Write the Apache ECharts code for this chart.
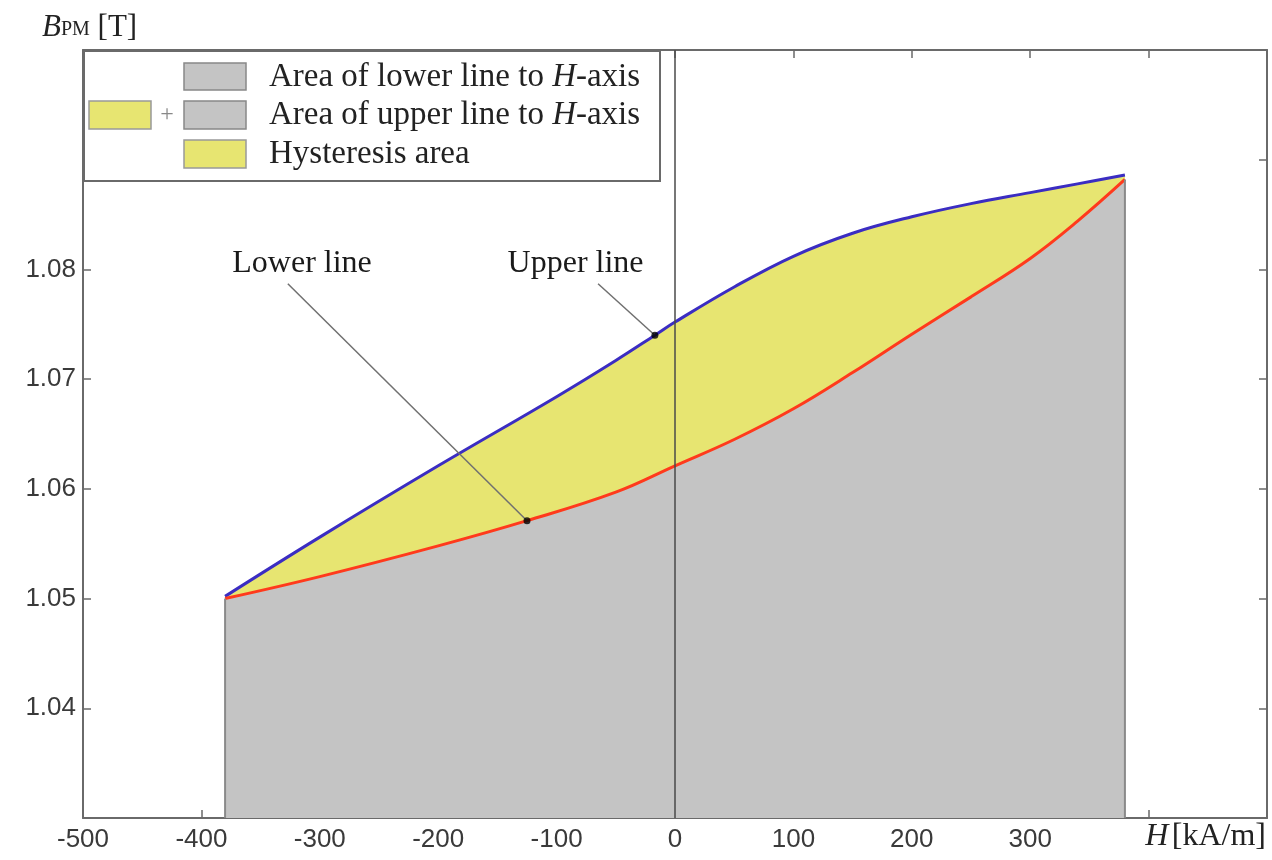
<!DOCTYPE html>
<html>
<head>
<meta charset="utf-8">
<script src="https://cdn.jsdelivr.net/npm/echarts@6/dist/echarts.min.js"></script>
<style>
html,body{margin:0;padding:0;background:#fff;}
#chart{width:1272px;height:860px;}
</style>
</head>
<body>
<div id="chart"></div>
<script>
// ---- data ----
const H_UPPER = [-380,-300,-200,-100,-50,-17,0,50,100,150,200,250,300,340,380];
const B_UPPER = [1.0502,1.0556,1.0621,1.0684,1.0717,1.0740,1.0752,1.0784,1.0812,1.0833,1.0848,1.0860,1.0870,1.0878,1.0886];
const H_LOWER = [-380,-300,-200,-125,-50,0,50,100,150,200,250,300,340,380];
const B_LOWER = [1.0500,1.0520,1.0548,1.0571,1.0597,1.0621,1.0645,1.0673,1.0706,1.0741,1.0775,1.0810,1.0844,1.0882];
const X_MIN = -500, X_MAX = 500, X_STEP = 100;
const Y_MIN = 1.03, Y_MAX = 1.10, Y_STEP = 0.01;
const Y_LABELS_SHOWN = ['1.04','1.05','1.06','1.07','1.08'];
const X_LABELS_SHOWN = [-500,-400,-300,-200,-100,0,100,200,300];
const LOWER_ANNOT = {text:'Lower line', textAt:[-315,1.0805], from:[-327,1.0787], markIdx:3};
const UPPER_ANNOT = {text:'Upper line', textAt:[-84,1.0805], from:[-65,1.0787], markIdx:5};
const LEGEND_TEXTS = ['Area of lower line to ', 'Area of upper line to ', 'Hysteresis area'];

const upper = H_UPPER.map((h,i)=>[h,B_UPPER[i]]);
const lower = H_LOWER.map((h,i)=>[h,B_LOWER[i]]);
const nL = lower.length;

const GRAY = '#c4c4c4', YELLOW = '#e7e571', BLUE = '#3b2dc2', RED = '#ff3a1c', AX = '#6a6a6a';
const serif = '"Liberation Serif","DejaVu Serif",serif';
const sans = '"Liberation Sans",Arial,sans-serif';

const chart = echarts.init(document.getElementById('chart'));

function annot(a, line){
  const to = line[a.markIdx];
  return [
    {type:'line', data:[a.from, to], symbol:'none', z:6, silent:true,
     lineStyle:{color:'#707070', width:1.5}},
    {type:'scatter', data:[to], symbol:'circle', symbolSize:7, z:7, silent:true,
     itemStyle:{color:'#000'}},
    {type:'scatter', data:[a.textAt], symbolSize:1, z:7, silent:true,
     itemStyle:{opacity:0},
     label:{show:true, position:'inside', formatter:a.text, color:'#1a1a1a', opacity:1,
            fontFamily:serif, fontSize:32}}
  ];
}

const legendY = [76, 114, 153];
const richLeg = {n:{fontFamily:serif, fontSize:33, fill:'#222'}, i:{fontFamily:serif, fontStyle:'italic', fontSize:33, fill:'#222'}};

const option = {
  animation:false,
  grid:{left:83, right:5, top:50, bottom:42, containLabel:false},
  xAxis:[
    {type:'value', min:X_MIN, max:X_MAX, interval:X_STEP, position:'bottom',
     axisLine:{onZero:false, lineStyle:{color:AX, width:2}},
     axisTick:{inside:true, length:8, lineStyle:{color:AX, width:1.5}},
     splitLine:{show:false},
     axisLabel:{margin:9, color:'#3a3a3a', fontFamily:sans, fontSize:26,
       formatter:v=> X_LABELS_SHOWN.indexOf(Math.round(v))>=0 ? String(Math.round(v)) : ''}},
    {type:'value', min:X_MIN, max:X_MAX, interval:X_STEP, position:'top',
     axisLine:{onZero:false, lineStyle:{color:AX, width:2}},
     axisTick:{inside:true, length:8, lineStyle:{color:AX, width:1.5}},
     splitLine:{show:false}, axisLabel:{show:false}}
  ],
  yAxis:[
    {type:'value', min:Y_MIN, max:Y_MAX, interval:Y_STEP, position:'left',
     axisLine:{onZero:false, lineStyle:{color:AX, width:2}},
     axisTick:{inside:true, length:8, lineStyle:{color:AX, width:1.5}},
     splitLine:{show:false},
     axisLabel:{margin:7, color:'#3a3a3a', fontFamily:sans, fontSize:26,
       formatter:v=>{const s=v.toFixed(2); return Y_LABELS_SHOWN.indexOf(s)>=0?s:'';}}},
    {type:'value', min:Y_MIN, max:Y_MAX, interval:Y_STEP, position:'right',
     axisLine:{onZero:false, lineStyle:{color:AX, width:2}},
     axisTick:{inside:true, length:8, lineStyle:{color:AX, width:1.5}},
     splitLine:{show:false}, axisLabel:{show:false}}
  ],
  series:[
    {type:'line', name:'upper', data:upper, smooth:0.4, symbol:'none', z:2,
     lineStyle:{color:BLUE, width:3}, areaStyle:{color:YELLOW, opacity:1, origin:'start'}},
    {type:'line', name:'lower', data:lower, smooth:0.4, symbol:'none', z:3,
     lineStyle:{color:RED, width:3}, areaStyle:{color:GRAY, opacity:1, origin:'start'},
     markLine:{silent:true, symbol:'none', label:{show:false},
       lineStyle:{color:'#4a4a4a', width:1.5, type:'solid'},
       data:[{xAxis:0}]}},
    {type:'line', data:[[lower[0][0],Y_MIN],[lower[0][0],lower[0][1]]], symbol:'none', z:3,
     lineStyle:{color:'#8a8a8a', width:2}},
    {type:'line', data:[[lower[nL-1][0],Y_MIN],[lower[nL-1][0],lower[nL-1][1]]], symbol:'none', z:3,
     lineStyle:{color:'#8a8a8a', width:2}},
    ...annot(LOWER_ANNOT, lower),
    ...annot(UPPER_ANNOT, upper)
  ],
  graphic:[
    {type:'text', left:42, top:12, z:10, style:{
      text:'{b|B}{s|PM}{n| [T]}',
      rich:{b:{fontFamily:serif, fontStyle:'italic', fontSize:31, fill:'#222'},
            s:{fontFamily:serif, fontSize:20, fill:'#222', verticalAlign:'bottom', padding:[0,0,3,0]},
            n:{fontFamily:serif, fontSize:31, fill:'#222'}}}},
    {type:'text', right:6, top:821, z:10, style:{
      text:'{i|H} {n|[kA/m]}',
      rich:{i:{fontFamily:serif, fontStyle:'italic', fontSize:32, fill:'#222'},
            n:{fontFamily:serif, fontSize:32, fill:'#222'}}}},
    {type:'group', left:83, top:50, z:20, children:[
      {type:'rect', shape:{x:0, y:0, width:576, height:130},
       style:{fill:'#fff', stroke:AX, lineWidth:2}, z:20},
      {type:'rect', shape:{x:100, y:12, width:62, height:27}, style:{fill:GRAY, stroke:'#888', lineWidth:1.5}, z:21},
      {type:'rect', shape:{x:5, y:50, width:62, height:28}, style:{fill:YELLOW, stroke:'#999', lineWidth:1.5}, z:21},
      {type:'text', x:83, y:64, style:{text:'+', fontFamily:serif, fontSize:24, fill:'#888', align:'center', verticalAlign:'middle'}, z:21},
      {type:'rect', shape:{x:100, y:50, width:62, height:28}, style:{fill:GRAY, stroke:'#888', lineWidth:1.5}, z:21},
      {type:'rect', shape:{x:100, y:89, width:62, height:28}, style:{fill:YELLOW, stroke:'#999', lineWidth:1.5}, z:21},
      {type:'text', x:185, y:legendY[0]-50, z:21, style:{text:'{n|'+LEGEND_TEXTS[0]+'}{i|H}{n|-axis}', verticalAlign:'middle', rich:richLeg}},
      {type:'text', x:185, y:legendY[1]-50, z:21, style:{text:'{n|'+LEGEND_TEXTS[1]+'}{i|H}{n|-axis}', verticalAlign:'middle', rich:richLeg}},
      {type:'text', x:185, y:legendY[2]-50, z:21, style:{text:LEGEND_TEXTS[2], verticalAlign:'middle',
        fontFamily:serif, fontSize:33, fill:'#222'}}
    ]}
  ]
};
chart.setOption(option);
</script>
</body>
</html>
